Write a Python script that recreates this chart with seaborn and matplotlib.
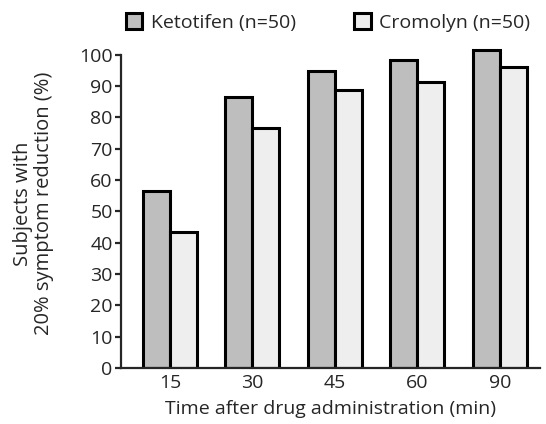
import pandas as pd
import numpy as np
import seaborn as sns
import matplotlib.pyplot as plt
from matplotlib.patches import Patch

# values
times = ["15", "30", "45", "60", "90"]
ketotifen = [56.5, 86.5, 94.7, 98.4, 101.4]
cromolyn = [43.4, 76.7, 88.8, 91.4, 96.0]
groups = ["Ketotifen (n=50)", "Cromolyn (n=50)"]
colors = ["#bebebe", "#eeeeee"]

df = pd.DataFrame({
    "Time": times * 2,
    "Percent": ketotifen + cromolyn,
    "Drug": [groups[0]] * len(times) + [groups[1]] * len(times),
})

sns.set_style("ticks")
plt.rcParams["font.family"] = ["Open Sans", "DejaVu Sans"]

fig = plt.figure(figsize=(5.46, 4.24), dpi=100)
ax = fig.add_axes([0.2216, 0.132, 0.767, 0.776])

sns.barplot(data=df, x="Time", y="Percent", hue="Drug", palette=colors,
            width=0.655, gap=0, edgecolor="black", linewidth=2.2,
            legend=False, ax=ax)

ax.set_xlim(-0.594, 4.485)
ax.set_ylim(0, 105)
ax.set_yticks(np.arange(0, 101, 10))
ax.spines["left"].set_bounds(0, 100)
ax.spines["top"].set_visible(False)
ax.spines["right"].set_visible(False)
for s in ["left", "bottom"]:
    ax.spines[s].set_linewidth(1.6)
ax.tick_params(axis="y", length=4, width=1.6, labelsize=14, pad=2)
ax.tick_params(axis="x", length=0, labelsize=14, pad=4)

ax.set_xlabel("Time after drug administration (min)", fontsize=14, labelpad=6)
ax.set_ylabel("Subjects with\n20% symptom reduction (%)", fontsize=14.5,
              labelpad=18, linespacing=1.05)

handles = [Patch(facecolor=c, edgecolor="black", linewidth=2.2) for c in colors]
fig.legend(handles, groups, ncol=2, frameon=False, loc="upper left",
           bbox_to_anchor=(0.198, 1.01), fontsize=14, handlelength=0.85,
           handleheight=0.85, handletextpad=0.45, columnspacing=3.0)

fig.savefig("out.png", dpi=100)
